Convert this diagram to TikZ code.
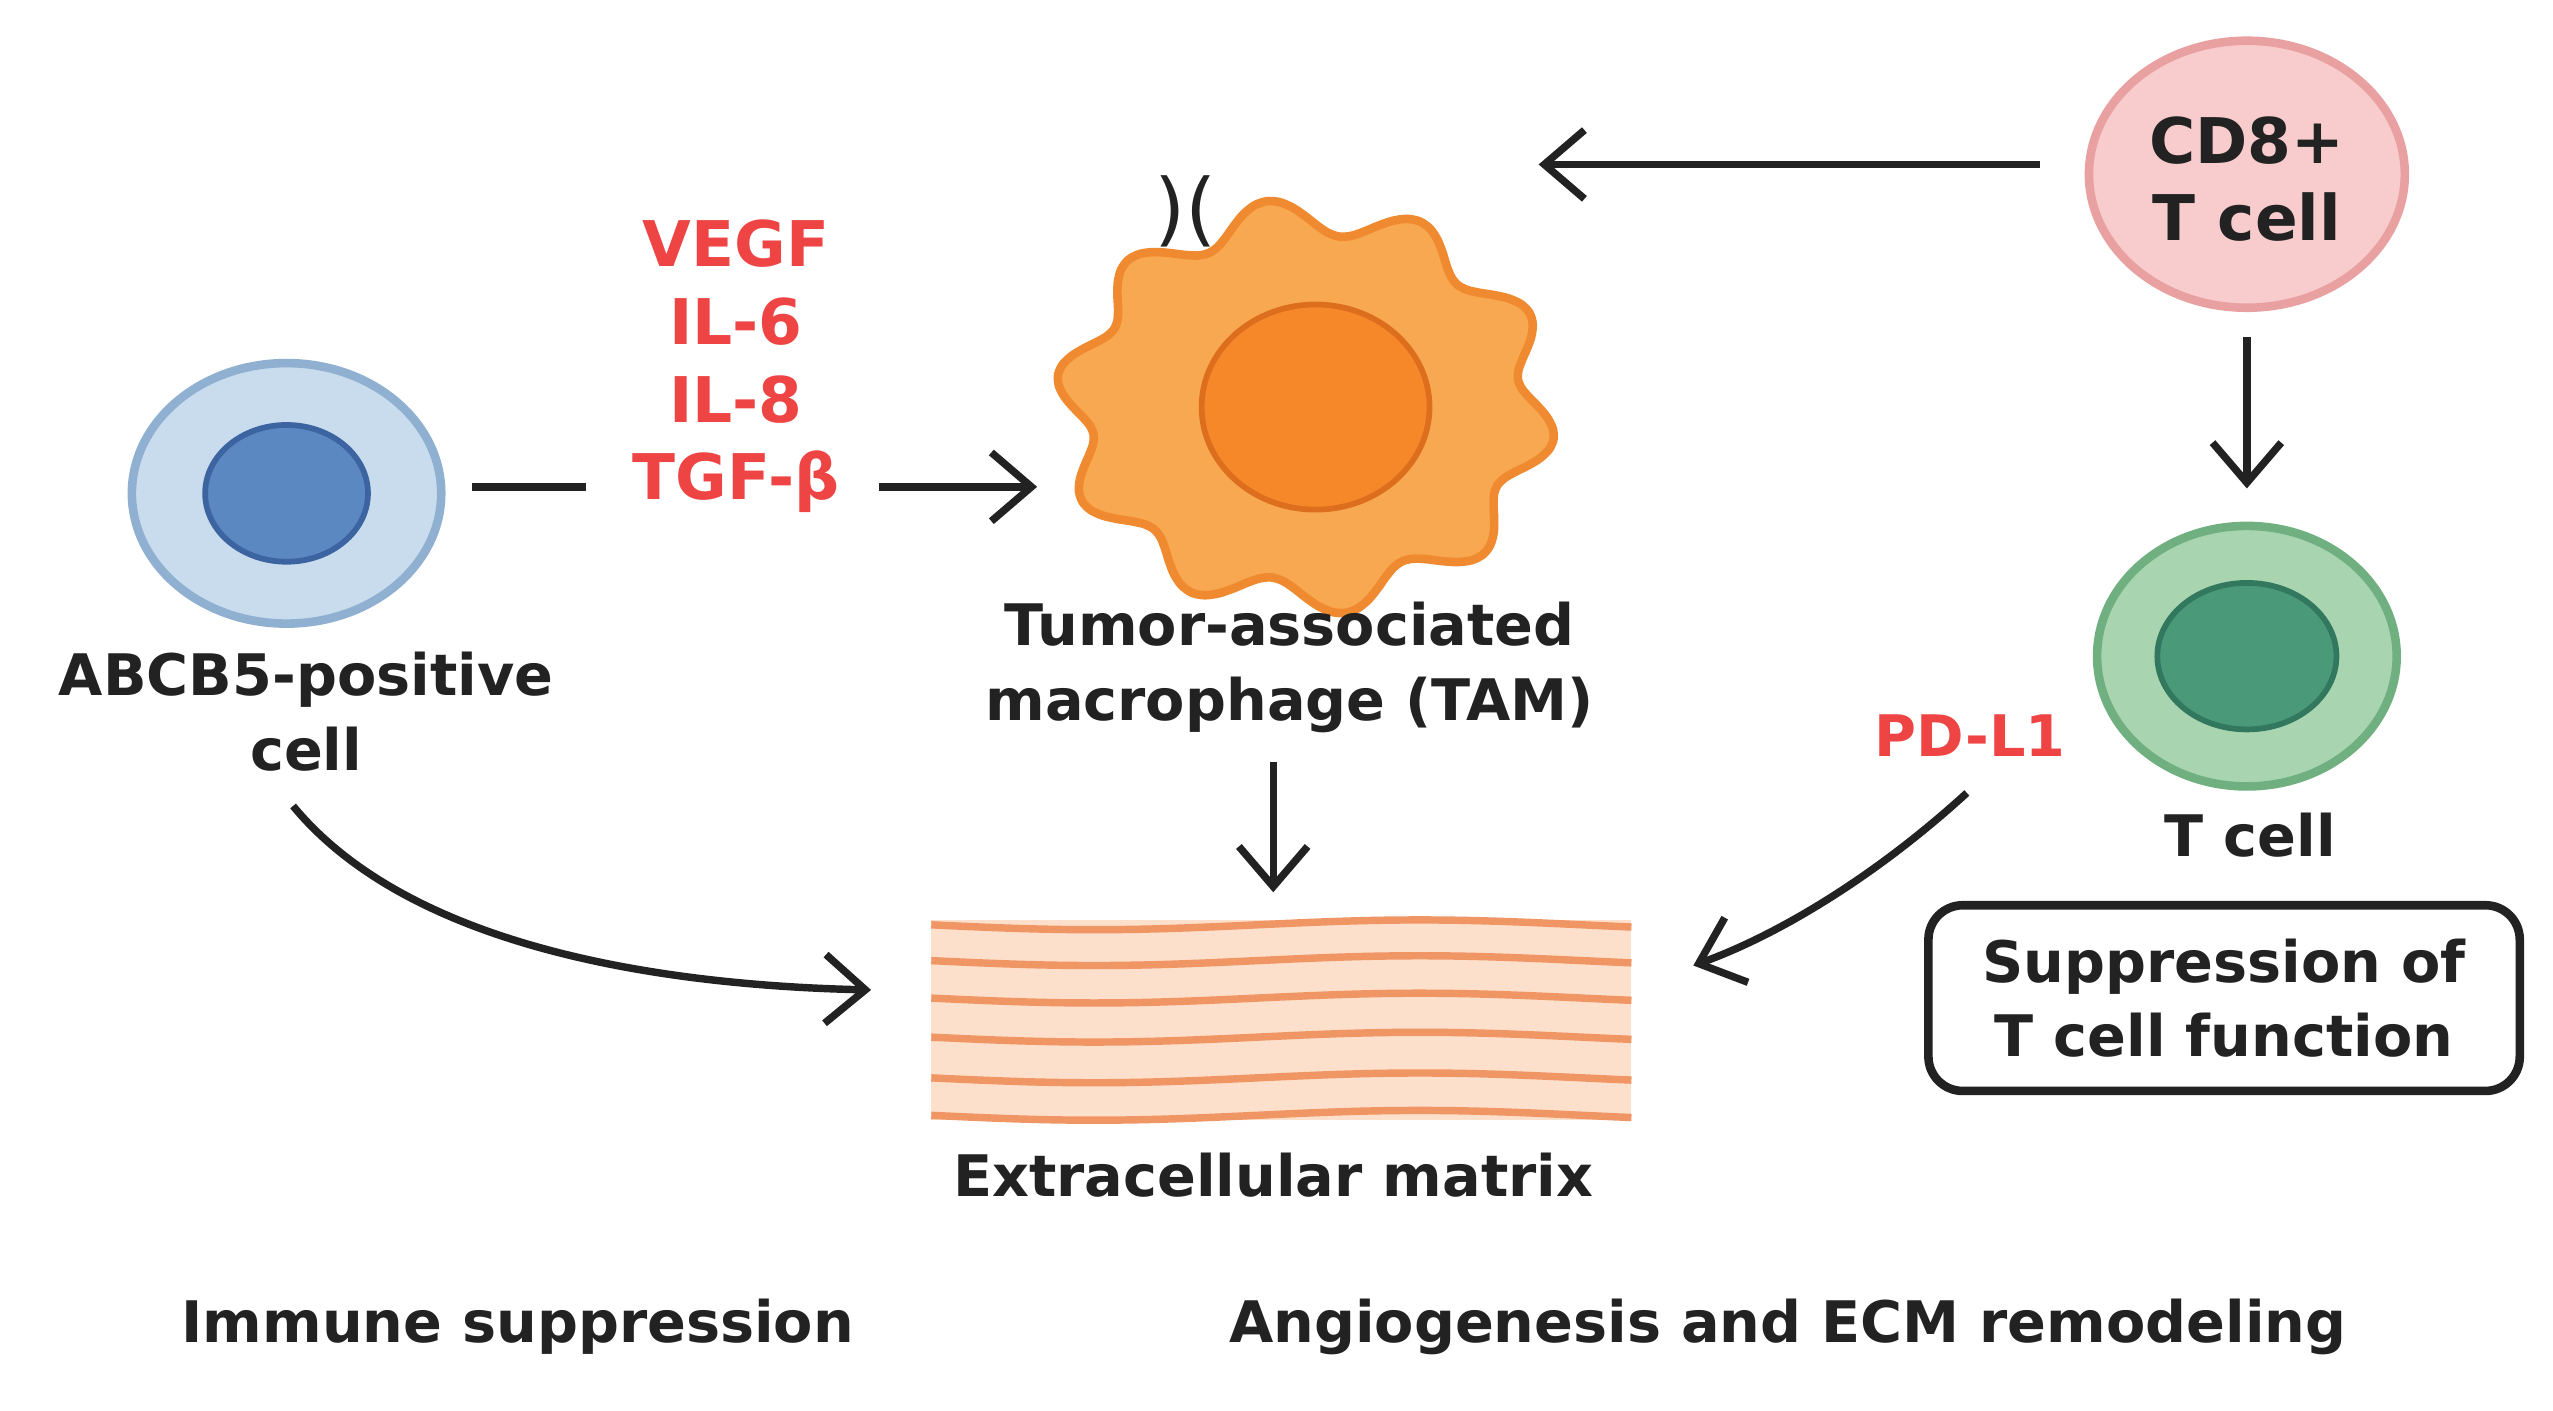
\documentclass[tikz,border=0pt]{standalone}
\usepackage{fontspec}
\setmainfont{DejaVu Sans}
\usetikzlibrary{arrows.meta}
\definecolor{txt}{HTML}{222222}
\definecolor{red1}{HTML}{EE4444}
\definecolor{bluef}{RGB}{201,220,237}
\definecolor{blued}{RGB}{143,176,208}
\definecolor{bluei}{RGB}{91,136,192}
\definecolor{blueid}{RGB}{60,100,160}
\definecolor{tamf}{RGB}{248,168,80}
\definecolor{tamd}{RGB}{240,138,48}
\definecolor{tamn}{RGB}{247,136,42}
\definecolor{tamnd}{RGB}{220,110,30}
\definecolor{ecmf}{RGB}{253,224,204}
\definecolor{ecml}{RGB}{240,150,100}
\definecolor{cdf}{RGB}{248,204,204}
\definecolor{cdd}{RGB}{232,160,160}
\definecolor{tf}{RGB}{168,213,176}
\definecolor{td}{RGB}{112,176,128}
\definecolor{ti}{RGB}{74,154,122}
\definecolor{tid}{RGB}{50,120,95}
\begin{document}
\begin{tikzpicture}[x=0.01cm,y=-0.01cm,
  lbl/.style={font=\bfseries\fontsize{10}{13}\selectfont,text=txt,align=center},
  rlbl/.style={font=\bfseries\fontsize{10}{13}\selectfont,text=red1,align=center},
  arr/.style={-{Straight Barb[length=7pt,width=12pt]},line width=1.3pt,draw=txt},
  pl/.style={line width=1.3pt,draw=txt}]
\useasboundingbox[fill=white] (0,0) rectangle (1568,866);
% ABCB5 cell
\filldraw[fill=bluef,draw=blued,line width=1.5pt] (176,303) ellipse [x radius=95,y radius=80];
\filldraw[fill=bluei,draw=blueid,line width=1pt] (176,303) ellipse [x radius=50,y radius=42];
\node (abc) at (176,303) {};
\node[lbl] (abcl) at (188,437) {ABCB5-positive\\cell};
% cytokines
\coordinate (l1) at (290,299); \coordinate (l2) at (360,299);
\draw[pl] (l1) -- (l2);
\node[rlbl,font=\bfseries\fontsize{11}{13.6}\selectfont] (cyt) at (452,225) {VEGF\\IL-6\\IL-8\\TGF-β};
\coordinate (a1) at (540,299); \coordinate (a2) at (637,299);
\draw[arr] (a1) -- (a2);
% TAM
\filldraw[fill=tamf,draw=tamd,line width=1.5pt]
  plot[smooth cycle,domain=0:357,samples=120,variable=\t] ({802+(143+11*sin(10*\t))*cos(\t)},{250+(117+11*sin(10*\t))*sin(\t)});
\filldraw[fill=tamn,draw=tamnd,line width=1pt] (808,250) ellipse [x radius=70,y radius=63];
\node (tam) at (802,250) {};
\node[font=\fontsize{14}{14}\selectfont,text=txt] (rcp) at (728,130) {)(};
\node[lbl] (taml) at (792,410) {Tumor-associated\\macrophage (TAM)};
\coordinate (t1) at (782,468); \coordinate (t2) at (782,548);
\draw[arr] (t1) -- (t2);
% ECM
\fill[ecmf] (572,565) rectangle (1002,688);
\foreach \y in {568,590,613,637,662,685}{
  \draw[ecml,line width=1.3pt] plot[smooth,domain=572:1002,samples=40,variable=\x] (\x,{\y+3*sin((\x-572)*0.9)});
}
\node (ecm) at (787,626) {};
\node[lbl] (ecmlab) at (782,722) {Extracellular matrix};
\coordinate (c1) at (180,495); \coordinate (c2) at (535,608);
\draw[arr] (c1) .. controls (250,580) and (400,605) .. (c2);
% CD8
\filldraw[fill=cdf,draw=cdd,line width=1.5pt] (1380,107) ellipse [x radius=97,y radius=82];
\node[lbl,font=\bfseries\fontsize{11}{13.6}\selectfont] (cd8) at (1380,110) {CD8+\\T cell};
\coordinate (d1) at (1253,101); \coordinate (d2) at (945,101);
\draw[arr] (d1) -- (d2);
\coordinate (d3) at (1380,207); \coordinate (d4) at (1380,300);
\draw[arr] (d3) -- (d4);
% T cell
\filldraw[fill=tf,draw=td,line width=1.5pt] (1380,403) ellipse [x radius=92,y radius=80];
\filldraw[fill=ti,draw=tid,line width=1pt] (1380,403) ellipse [x radius=55,y radius=45];
\node[lbl] (tcl) at (1382,513) {T cell};
\node[rlbl] (pdl) at (1210,452) {PD-L1};
\coordinate (p1) at (1208,487); \coordinate (p2) at (1040,593);
\draw[arr] (p1) .. controls (1150,540) and (1090,575) .. (p2);
\node[lbl,draw=txt,line width=1.5pt,rounded corners=6pt,minimum width=3.63cm,minimum height=1.14cm] (sup) at (1366,613) {Suppression of\\T cell function};
% bottom
\node[lbl] (im) at (318,815) {Immune suppression};
\node[lbl] (ang) at (1098,815) {Angiogenesis and ECM remodeling};
\end{tikzpicture}
\end{document}
